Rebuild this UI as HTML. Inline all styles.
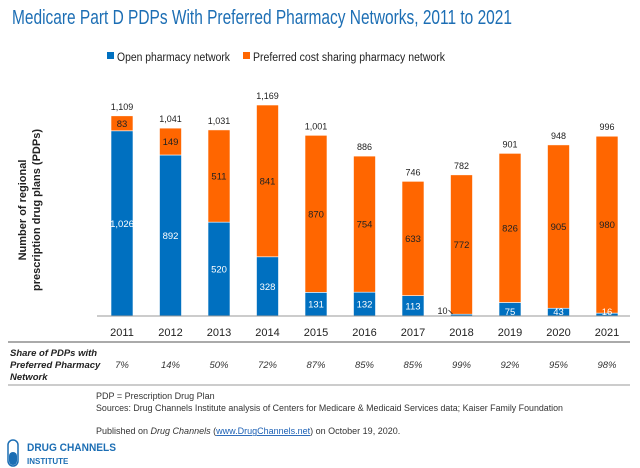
<!DOCTYPE html>
<html><head><meta charset="utf-8"><style>
html,body{margin:0;padding:0;background:#fff;}
svg{display:block;font-family:"Liberation Sans",sans-serif;}
</style></head><body>
<svg id="chart" width="640" height="468" viewBox="0 0 640 468">
<text x="12" y="24" font-size="20" fill="#1C6EB4" textLength="500" lengthAdjust="spacingAndGlyphs">Medicare Part D PDPs With Preferred Pharmacy Networks, 2011 to 2021</text>
<g>
<rect x="107" y="52" width="7" height="7" fill="#0070C0"/>
<text x="117" y="61" font-size="11.5" fill="#222" textLength="113" lengthAdjust="spacingAndGlyphs">Open pharmacy network</text>
<rect x="243" y="52" width="7" height="7" fill="#FF6600"/>
<text x="253" y="61" font-size="11.5" fill="#222" textLength="192" lengthAdjust="spacingAndGlyphs">Preferred cost sharing pharmacy network</text>
</g>
<g transform="translate(26,210) rotate(-90)">
<text x="0" y="0" font-size="11" font-weight="bold" fill="#222" text-anchor="middle">Number of regional</text>
<text x="0" y="14" font-size="11" font-weight="bold" fill="#222" text-anchor="middle">prescription drug plans (PDPs)</text>
</g>
<g id="bars"></g>
<line x1="97" y1="316" x2="630" y2="316" stroke="#999" stroke-width="1"/>
<line x1="8" y1="342" x2="630" y2="342" stroke="#555" stroke-width="1"/>
<line x1="8" y1="385" x2="630" y2="385" stroke="#999" stroke-width="1"/>
<g font-size="9.5" font-style="italic" font-weight="bold" fill="#222">
<text x="10" y="356">Share of PDPs with</text>
<text x="10" y="368">Preferred Pharmacy</text>
<text x="10" y="380">Network</text>
</g>
<g font-size="9" fill="#333">
<text x="96" y="399">PDP = Prescription Drug Plan</text>
<text x="96" y="411" textLength="467" lengthAdjust="spacingAndGlyphs">Sources: Drug Channels Institute analysis of Centers for Medicare &amp; Medicaid Services data; Kaiser Family Foundation</text>
<text x="96" y="434">Published on <tspan font-style="italic">Drug Channels</tspan> (<tspan fill="#1a5fb4" text-decoration="underline">www.DrugChannels.net</tspan>) on October 19, 2020.</text>
</g>
<g>
<rect x="8" y="440" width="10" height="26" rx="5" fill="#fff" stroke="#1C6EB4" stroke-width="1.5"/>
<rect x="9" y="452" width="8" height="13" rx="4" fill="#1C6EB4"/>
<text x="27" y="451" font-size="11" font-weight="bold" fill="#1C6EB4" textLength="89" lengthAdjust="spacingAndGlyphs">DRUG CHANNELS</text>
<text x="27" y="464" font-size="8" font-weight="bold" fill="#1C6EB4">INSTITUTE</text>
</g>
</svg>
<script>
const years = ["2011","2012","2013","2014","2015","2016","2017","2018","2019","2020","2021"];
const openVals = [1026,892,520,328,131,132,113,10,75,43,16];
const prefVals = [83,149,511,841,870,754,633,772,826,905,980];
const totals = ["1,109","1,041","1,031","1,169","1,001","886","746","782","901","948","996"];
const openLabels = ["1,026","892","520","328","131","132","113","","75","43","16"];
const shares = ["7%","14%","50%","72%","87%","85%","85%","99%","92%","95%","98%"];

const NS = "http://www.w3.org/2000/svg";
const svg = document.getElementById("chart");
const g = document.getElementById("bars");
const base = 316, scale = 211/1169, x0 = 122, step = 48.5, bw = 22;
const xPos = i => x0 + i*step;
const yH = v => v*scale;
function mk(tag, attrs, parent){const e=document.createElementNS(NS,tag);for(const k in attrs)e.setAttribute(k,attrs[k]);(parent||g).appendChild(e);return e;}
function txt(x,y,s,size,fill,extra){const t=mk("text",Object.assign({x:x,y:y,"font-size":size,fill:fill,"text-anchor":"middle"},extra||{}));t.textContent=s;return t;}

years.forEach((yr,i)=>{
  const cx = xPos(i);
  const ho = yH(openVals[i]), hp = yH(prefVals[i]);
  const b1 = mk("rect",{x:cx-bw/2,y:base-ho,width:bw,height:ho,fill:"#0070C0",stroke:"#fff","stroke-width":0.6});
  
  
  const b2 = mk("rect",{x:cx-bw/2,y:base-ho-hp,width:bw,height:hp,fill:"#FF6600",stroke:"#fff","stroke-width":0.6});
  
  
  const tt = txt(cx, base-ho-hp-6, totals[i], 9, "#222");
  
  
  const pl = txt(cx, base-ho-hp/2+3.5, String(prefVals[i]), 9.5, "#222");
  
  
  if(openLabels[i]){
    const oy = ho > 14 ? base-ho/2+3.5 : base-1;
    const ol = txt(cx, oy, openLabels[i], 9.5, "#fff");
    
    
  }
  const xl = txt(cx, 336, yr, 11, "#222");
  
  
  const sh = txt(cx, 368, shares[i], 9.5, "#333", {"font-style":"italic"});
  
  
});
// 2018 callout
const i18 = 7, c18 = xPos(i18);
const cl = txt(c18-19, 314, openLabels[i18] || String(openVals[i18]), 9, "#222");


const ar = mk("line",{x1:c18-13,y1:310,x2:c18-9,y2:314,stroke:"#222","stroke-width":0.8});


</script>
</body></html>
